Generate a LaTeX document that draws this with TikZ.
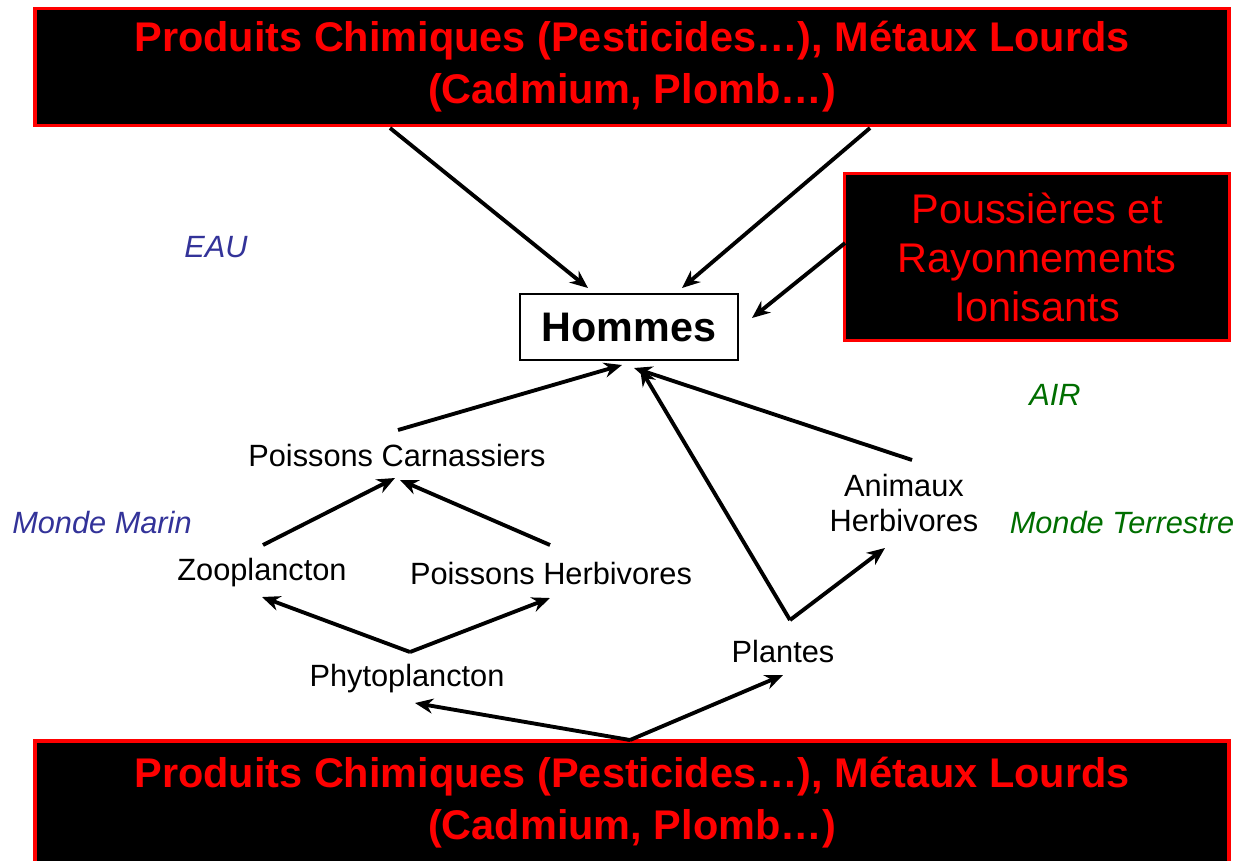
\documentclass[tikz,border=0pt]{standalone}
\usepackage{fontspec}
\setmainfont{Liberation Sans}
\usepackage{tikz}
\usetikzlibrary{arrows.meta, positioning, calc}

\definecolor{eaublue}{RGB}{51,51,153}
\definecolor{airgreen}{RGB}{0,110,0}

\begin{document}
\begin{tikzpicture}[x=0.02cm, y=-0.02cm,
    pollbox/.style={rectangle, draw=red, fill=black, line width=2.2pt, text=red, align=center},
    hbox/.style={rectangle, draw, line width=1.1pt, fill=white, minimum width=4.36cm, minimum height=1.32cm, font=\fontsize{23.5}{26}\selectfont\bfseries},
    espece/.style={align=center, font=\fontsize{17.5}{20}\selectfont},
    zone/.style={font=\fontsize{17.5}{20}\selectfont\itshape},
    arrow/.style={-{Stealth[length=0.36cm, width=0.3cm]}, line width=2.2pt}
]
\useasboundingbox (0,0) rectangle (1247,860);

\node[pollbox, minimum width=23.9cm, minimum height=2.34cm, font=\fontsize{23.6}{29.6}\selectfont\bfseries] (top) at (632,67) {Produits Chimiques (Pesticides…), Métaux Lourds\\(Cadmium, Plomb…)};
\node[pollbox, minimum width=23.9cm, minimum height=2.48cm, font=\fontsize{23.6}{29.6}\selectfont\bfseries] (bottom) at (632,803) {Produits Chimiques (Pesticides…), Métaux Lourds\\(Cadmium, Plomb…)};
\node[pollbox, minimum width=7.7cm, minimum height=3.34cm, font=\fontsize{23.6}{27.9}\selectfont] (pouss) at (1037,257) {Poussières et\\Rayonnements\\Ionisants};
\node[hbox] (hommes) at (629,327) {Hommes};

\node[espece] (carn) at (397,455) {Poissons Carnassiers};
\node[espece] (animaux) at (904,503) {Animaux\\Herbivores};
\node[espece] (zoo) at (262,573) {Zooplancton};
\node[espece] (pherb) at (551,573) {Poissons Herbivores};
\node[espece] (plantes) at (783,651) {Plantes};
\node[espece] (phyto) at (407,679) {Phytoplancton};

\node[zone, text=eaublue] (eau) at (216,247) {EAU};
\node[zone, text=eaublue] (marin) at (102,523) {Monde Marin};
\node[zone, text=airgreen] (air) at (1055,395) {AIR};
\node[zone, text=airgreen] (terre) at (1122,523) {Monde Terrestre};

% points de depart des fleches en V
\coordinate (phyto-v) at ($(phyto.center)+(3,-27)$);
\coordinate (plantes-v) at ($(plantes.center)+(7,-31)$);
\coordinate (bottom-v) at ($(bottom.center)+(-2,-63)$);

\draw[arrow] ($(top.center)+(-242,61)$) -- ($(hommes.center)+(-41,-39)$);
\draw[arrow] ($(top.center)+(238,61)$) -- ($(hommes.center)+(53,-39)$);
\draw[arrow] ($(pouss.center)+(-192,-14)$) -- ($(hommes.center)+(123,-9)$);
\draw[arrow] ($(carn.center)+(1,-25)$) -- ($(hommes.center)+(-7,38)$);
\draw[arrow] (plantes-v) -- ($(hommes.center)+(11,41)$);
\draw[arrow] ($(animaux.center)+(8,-43)$) -- ($(hommes.center)+(5,41)$);

\draw[arrow] ($(zoo.center)+(1,-28)$) -- ($(carn.center)+(-2,23)$);
\draw[arrow] ($(pherb.center)+(-1,-28)$) -- ($(carn.center)+(3,25)$);
\draw[arrow] (plantes-v) -- ($(animaux.center)+(-19,45)$);

\draw[arrow] (phyto-v) -- ($(zoo.center)+(0,24)$);
\draw[arrow] (phyto-v) -- ($(pherb.center)+(-1,25)$);
\draw[arrow] (bottom-v) -- ($(phyto.center)+(8,24)$);
\draw[arrow] (bottom-v) -- ($(plantes.center)+(0,24)$);
\end{tikzpicture}
\end{document}
